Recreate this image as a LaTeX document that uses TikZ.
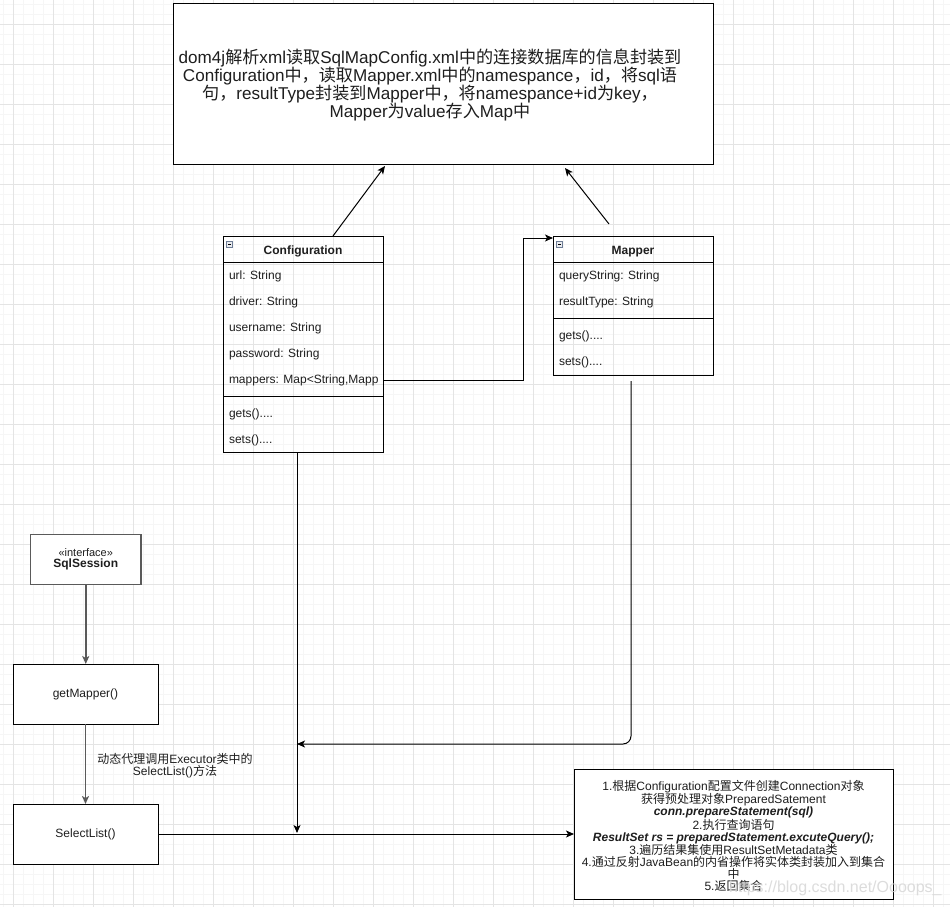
\documentclass[tikz,border=0pt]{standalone}
\usepackage{fontspec}
\setmainfont{Liberation Sans}
\newfontfamily\cjk{Noto Sans CJK SC}
\usetikzlibrary{arrows.meta,calc}
\newcommand\zh[1]{{\cjk #1}}
\definecolor{minorc}{RGB}{246,246,246}
\definecolor{majorc}{RGB}{228,228,228}
\definecolor{ifgray}{RGB}{90,90,90}
\definecolor{txt}{RGB}{30,30,30}
\definecolor{iconc}{RGB}{110,125,150}
\begin{document}
\begin{tikzpicture}[x=1pt,y=-1pt,
  every node/.style={inner sep=0pt,outer sep=0pt,text=txt},
  box/.style={draw=black,line width=1pt,fill=white,rectangle},
  cls/.style={draw=black,line width=1pt,rectangle},
  arr/.style={line width=1pt,-{Stealth[length=8pt,width=7pt,inset=2pt]}},
  garr/.style={line width=1.8pt,draw=ifgray,-{Stealth[length=8pt,width=7pt,inset=2pt]}},
  f12/.style={font=\fontsize{12}{12}\selectfont},
  row/.style={f12,anchor=west},
  minorgrid/.style={draw=minorc,line width=0.8pt},
  majorgrid/.style={draw=majorc,line width=0.8pt},
  icon/.style={draw=iconc,fill=iconc!15,line width=0.7pt}
]
\useasboundingbox (0,0) rectangle (950,907);
\fill[white] (0,0) rectangle (950,907);
% grid
\foreach \i in {0,...,94} {\draw[minorgrid] (3.3+10*\i,0) -- (3.3+10*\i,907);}
\foreach \i in {0,...,90} {\draw[minorgrid] (0,4.3+10*\i) -- (950,4.3+10*\i);}
\foreach \i in {0,...,23} {\draw[majorgrid] (13.3+40*\i,0) -- (13.3+40*\i,907);}
\foreach \i in {0,...,22} {\draw[majorgrid] (0,24.3+40*\i) -- (950,24.3+40*\i);}

% top description box
\node[box,minimum width=540pt,minimum height=160pt] (desc) at (443,84) {};
\node[align=center,font=\fontsize{17.1}{18}\selectfont] (desctext) at (430,85)
{dom4j\zh{解析}xml\zh{读取}SqlMapConfig.xml\zh{中的连接数据库的信息封装到}\\
Configuration\zh{中，读取}Mapper.xml\zh{中的}namespance\zh{，}id\zh{，将}sql\zh{语}\\
\zh{句，}resultType\zh{封装到}Mapper\zh{中，将}namespance+id\zh{为}key\zh{，}\\
Mapper\zh{为}value\zh{存入}Map\zh{中}};

% Configuration class
\node[cls,minimum width=160pt,minimum height=216pt] (config) at (303,344) {};
\draw[line width=1pt] (223,262.5) -- (383,262.5);
\draw[line width=1pt] (223,396) -- (383,396);
\draw[icon] (226.8,241.8) rectangle (232.8,247.8);
\draw[line width=0.7pt] (228.2,244.8) -- (231.4,244.8);
\node[f12,font=\fontsize{12}{12}\selectfont\bfseries] (configtitle) at (303,251.5) {Configuration};
\node[row] (c1) at (229,276.5) {url: String};
\node[row] (c2) at (229,302.5) {driver: String};
\node[row] (c3) at (229,328.5) {username: String};
\node[row] (c4) at (229,354.5) {password: String};
\node[row] (c5) at (229,380.5) {mappers: Map<String,Mapp};
\node[row] (c6) at (229,414.5) {gets()....};
\node[row] (c7) at (229,440.5) {sets()....};

% Mapper class
\node[cls,minimum width=160pt,minimum height=139pt] (mapper) at (633,305.5) {};
\draw[line width=1pt] (553,262.5) -- (713,262.5);
\draw[line width=1pt] (553,318.5) -- (713,318.5);
\draw[icon] (556.8,241.8) rectangle (562.8,247.8);
\draw[line width=0.7pt] (558.2,244.8) -- (561.4,244.8);
\node[font=\fontsize{12}{12}\selectfont\bfseries] (mappertitle) at (633,251.5) {Mapper};
\node[row] (m1) at (559,276.5) {queryString: String};
\node[row] (m2) at (559,302.5) {resultType: String};
\node[row] (m3) at (559,336.5) {gets()....};
\node[row] (m4) at (559,362.5) {sets()....};

% left column
\node[draw=ifgray,line width=1.8pt,fill=white,minimum width=110.5pt,minimum height=50pt,align=center] (sqls) at (85.75,559.5)
{{\fontsize{11}{12}\selectfont «interface»}\\[-0.5pt]{\fontsize{12}{12}\selectfont\bfseries SqlSession}};
\node[box,minimum width=145pt,minimum height=60pt,f12] (getm) at (85.5,694) {getMapper()};
\node[box,minimum width=145pt,minimum height=60pt,f12] (sel) at (85.5,834) {SelectList()};
\node[f12,align=center] (lbl) at (175,765.5) {\zh{动态代理调用}Executor\zh{类中的}\\SelectList()\zh{方法}};

% result box
\node[box,minimum width=319pt,minimum height=130pt] (res) at (733.5,834) {};
\node[align=center,font=\fontsize{12}{11.8}\selectfont] (restext) at (733.5,835.5)
{1.\zh{根据}Configuration\zh{配置文件创建}Connection\zh{对象}\\
\zh{获得预处理对象}PreparedSatement\\
\textbf{\textit{conn.prepareStatement(sql)}}\\
2.\zh{执行查询语句}\\
\textbf{\textit{ResultSet rs = preparedStatement.excuteQuery();}}\\
3.\zh{遍历结果集使用}ResultSetMetadata\zh{类}\\
4.\zh{通过反射}JavaBean\zh{的内省操作将实体类封装加入到集合}\\
\zh{中}\\
5.\zh{返回集合}};
\node[anchor=west,font=\fontsize{16}{16}\selectfont,text=gray!30,opacity=0.9] (wm) at (729,888) {https://blog.csdn.net/Oooops\_};

% junction coordinates
\coordinate (j1) at (297,833);
\coordinate (j2) at (297,744);

% connectors
\draw[arr] ([xshift=30pt]config.north) -- ([xshift=-58pt,yshift=-2pt]desc.south);
\draw[arr] ([xshift=-24pt,yshift=12pt]mapper.north) -- ([xshift=122pt,yshift=-4pt]desc.south);
\draw[arr] (c5.east -| config.east) -- (523,380.5) |- ([yshift=-2pt]mapper.north west);
\draw[arr,rounded corners=8pt] ([xshift=-2pt,yshift=-6pt]mapper.south) |- (j2);
\draw[arr] ([xshift=-6pt]config.south) -- (j1);
\draw[arr] (sel.east) -- (res.west);
\draw[garr] (sqls.south) -- (sqls.south |- getm.north);
\draw[garr] (getm.south) -- (sel.north);
\end{tikzpicture}
\end{document}
